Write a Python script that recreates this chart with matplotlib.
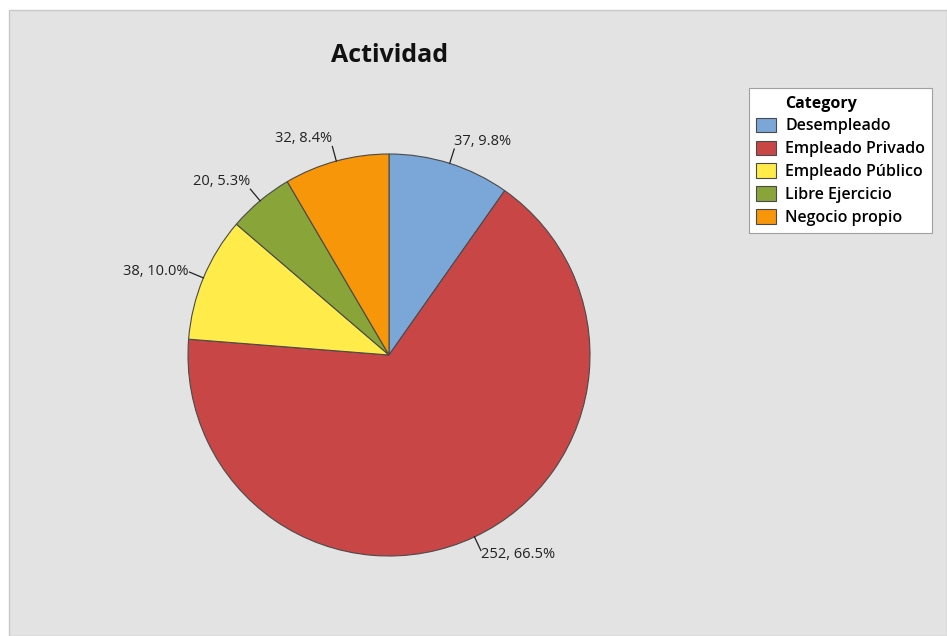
import numpy as np
import matplotlib
matplotlib.use("Agg")
from matplotlib import pyplot as plt
from matplotlib.patches import Rectangle

categories = ["Desempleado", "Empleado Privado", "Empleado Público", "Libre Ejercicio", "Negocio propio"]
counts = [37, 252, 38, 20, 32]
colors = ["#7BA7D8", "#C84746", "#FFEC4A", "#89A53A", "#F69608"]

plt.rcParams["font.family"] = ["Open Sans", "DejaVu Sans"]

W, H = 947, 636
fig = plt.figure(figsize=(W / 100, H / 100), dpi=100)
fig.patch.set_facecolor("white")

# grey panel behind everything
fig.patches.append(Rectangle((9 / W, 0), 1 - 9 / W, 1 - 10 / H, transform=fig.transFigure,
                             facecolor="#E3E3E3", edgecolor="#C8C8C8", linewidth=1, zorder=-5))

# pie: centre (389, 355) px, radius 201 px
cx, cy, r = 389, 355, 201
half = 1.25 * r
ax = fig.add_axes([(cx - half) / W, (H - cy - half) / H, 2 * half / W, 2 * half / H])
ax.set_facecolor("none")
ax.set_zorder(2)
wedges, _ = ax.pie(counts, colors=colors, startangle=90, counterclock=False,
                   wedgeprops=dict(edgecolor="#4A4A4A", linewidth=0.8))
ax.set_xlim(-1.25, 1.25)
ax.set_ylim(-1.25, 1.25)
ax.set_aspect("equal")

total = sum(counts)
for w, n in zip(wedges, counts):
    ang = np.deg2rad((w.theta1 + w.theta2) / 2)
    x, y = np.cos(ang), np.sin(ang)
    ex, ey = 1.075 * x, 1.075 * y
    ax.plot([x, ex], [y, ey], color="#222222", linewidth=0.9, clip_on=False)
    ha = "left" if x > 0 else "right"
    if y > 0.5:
        off = (0, 4)
    elif y < -0.5:
        off = (0, -7)
    else:
        off = (-1, -3)
    ax.annotate(f"{n}, {100 * n / total:.1f}%", xy=(ex, ey), xytext=off,
                textcoords="offset pixels", ha=ha, va="baseline",
                fontsize=10.5, color="#222222", annotation_clip=False)

fig.text(390 / W, 1 - 55 / H, "Actividad", ha="center", va="center",
         fontsize=18, fontweight="bold", color="#111111")

# legend with a text-only "Category" row
title_handle = Rectangle((0, 0), 1, 1, facecolor="none", edgecolor="none")
handles = [title_handle] + list(wedges)
labels = ["Category"] + categories
leg = fig.legend(handles, labels, loc="upper left", bbox_to_anchor=(749 / W, 1 - 88 / H),
                 frameon=True, fancybox=False, edgecolor="#A0A0A0", facecolor="white",
                 framealpha=1, prop=dict(size=11.5, weight="semibold"),
                 handlelength=1.3, handleheight=1.05, handletextpad=0.55,
                 labelspacing=0.38, borderpad=0.42, borderaxespad=0)
leg.set_zorder(3)
leg.get_frame().set_linewidth(0.8)
for p in leg.get_patches()[1:]:
    p.set_edgecolor("#4A4A4A")
    p.set_linewidth(0.8)
leg.get_texts()[0].set_fontweight("bold")

fig.savefig("out.png", dpi=100)
